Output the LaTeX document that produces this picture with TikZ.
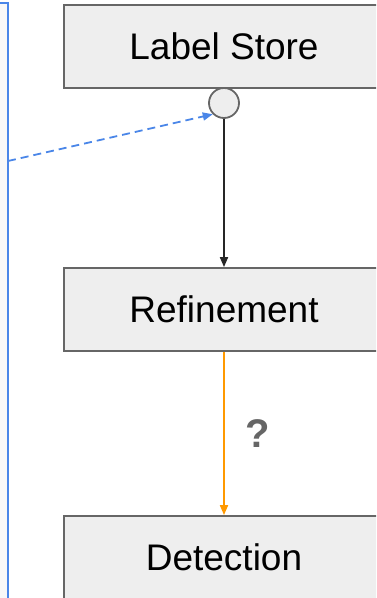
\documentclass[tikz,border=0pt]{standalone}
\usepackage{fontspec}
\setmainfont{Liberation Sans}
\usepackage{xcolor}
\usepackage{tikz}
\usetikzlibrary{positioning, arrows.meta}

\definecolor{boxgray}{HTML}{EEEEEE}
\definecolor{edgegray}{HTML}{666666}
\definecolor{lanegray}{HTML}{F8F8F8}
\definecolor{gblue}{HTML}{4A86E8}
\definecolor{gorange}{HTML}{FF9900}

\begin{document}
\begin{tikzpicture}[x=1pt, y=-1pt,
    stage/.style={draw=edgegray, line width=1.8pt, fill=boxgray, minimum width=320pt,
      minimum height=83pt, font=\fontsize{37}{41}\selectfont},
    port/.style={draw=edgegray, line width=1.8pt, fill=boxgray, circle,
      minimum size=30pt, inner sep=0pt},
    flow/.style={line width=1.8pt, -{Triangle[length=10pt, width=8pt]}}]
      \useasboundingbox (0,0) rectangle (376,598);
      \clip (0,0) rectangle (376,598);

      % lane on the left
      \fill[lanegray] (-10,3) rectangle (8,610);
      \draw[gblue, line width=2pt] (-10,3) -- (8,3) -- (8,610);

      \node[stage] (store) at (224,46.5) {Label Store};
      \node[port] (tap) at (224,103) {};
      \node[stage] (refine) at (224,309.5) {Refinement};
      \node[stage] (detect) at (224,557.5) {Detection};

      \coordinate (lane) at (8,161);

      \draw[flow, gblue, dash pattern=on 8pt off 5pt] (lane) -- (tap.south west);
      \draw[flow, black!85] (tap) -- (refine);
      \draw[flow, gorange] (refine) -- (detect)
        node[midway, right=21pt, inner sep=0pt, text=edgegray,
          font=\bfseries\fontsize{40}{44}\selectfont] (ask) {?};
    \end{tikzpicture}
\end{document}
